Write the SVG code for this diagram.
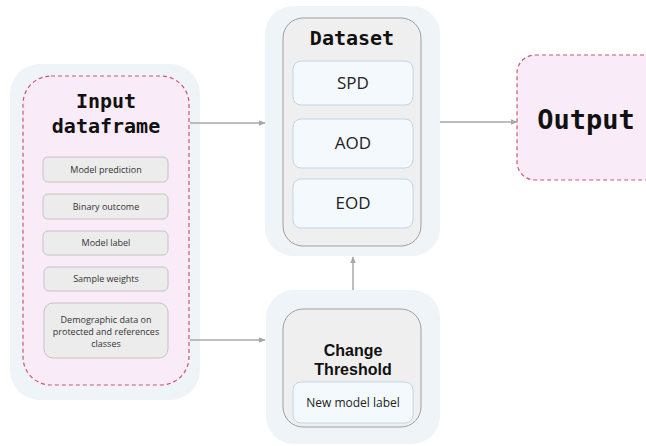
<svg xmlns="http://www.w3.org/2000/svg" width="646" height="446" viewBox="0 0 646 446">
<style>
.bg{fill:#eef4f7;stroke:none}
.pink{fill:#f9ebf7;stroke:#d4546f;stroke-width:1.2;stroke-dasharray:4 3}
.gray{fill:#efefef;stroke:#a0a0a0;stroke-width:1}
.item{fill:#ececec;stroke:#c4c4c4;stroke-width:1}
.blue{fill:#f4f9fd;stroke:#c3d4e6;stroke-width:1}
.mono{font-family:"DejaVu Sans Mono","Liberation Mono",monospace;font-weight:bold;fill:#111;text-anchor:middle}
.sm{font-family:"Open Sans","Noto Sans",sans-serif;font-size:9px;fill:#333;text-anchor:middle}
.lbl{font-family:"Open Sans","Noto Sans",sans-serif;font-size:12px;fill:#222;text-anchor:middle}
.md{font-family:"Open Sans","Noto Sans",sans-serif;font-size:17px;fill:#222;text-anchor:middle}
.bold{font-family:"Liberation Sans",Arial,sans-serif;font-weight:bold;font-size:16px;fill:#111;text-anchor:middle}
.conn{stroke:#a8a8a8;stroke-width:1.5;fill:none}
</style>
<defs>
<marker id="arr" viewBox="0 0 10 10" refX="9" refY="5" markerWidth="7" markerHeight="7" orient="auto" markerUnits="userSpaceOnUse">
<path d="M0,1 L10,5 L0,9 z" fill="#a8a8a8"/>
</marker>
</defs>
<g id="input">
<rect class="bg" x="10" y="64" width="190" height="336" rx="30"/>
<rect class="pink" x="23" y="76" width="166" height="309" rx="28"/>
<text class="mono" x="106" y="108" font-size="20">Input</text>
<text class="mono" x="106" y="133" font-size="20">dataframe</text>
<rect class="item" x="43" y="157" width="125" height="25" rx="5"/>
<text class="sm" x="106" y="173">Model prediction</text>
<rect class="item" x="43" y="194" width="125" height="25" rx="5"/>
<text class="sm" x="106" y="210">Binary outcome</text>
<rect class="item" x="43" y="231" width="125" height="24" rx="5"/>
<text class="sm" x="106" y="246">Model label</text>
<rect class="item" x="44" y="267" width="124" height="24" rx="5"/>
<text class="sm" x="106" y="282">Sample weights</text>
<rect class="item" x="44" y="303" width="124" height="55" rx="9"/>
<text class="sm" x="106" y="323">Demographic data on</text>
<text class="sm" x="106" y="335">protected and references</text>
<text class="sm" x="106" y="347">classes</text>
</g>
<g id="dataset">
<rect class="bg" x="265" y="6" width="175" height="250" rx="28"/>
<rect class="gray" x="283" y="18" width="138" height="228" rx="20"/>
<text class="mono" x="352" y="45" font-size="20">Dataset</text>
<rect class="blue" x="293" y="61" width="120" height="44" rx="8"/>
<text class="md" x="353" y="89">SPD</text>
<rect class="blue" x="293" y="119" width="120" height="49" rx="8"/>
<text class="md" x="353" y="149">AOD</text>
<rect class="blue" x="293" y="179" width="120" height="49" rx="8"/>
<text class="md" x="353" y="209">EOD</text>
</g>
<g id="threshold">
<rect class="bg" x="266" y="290" width="174" height="154" rx="28"/>
<rect class="gray" x="283" y="309" width="138" height="118" rx="20"/>
<text class="bold" x="353" y="356">Change</text>
<text class="bold" x="353" y="375">Threshold</text>
<rect class="blue" x="293" y="382" width="120" height="41" rx="8"/>
<text class="lbl" x="353" y="407">New model label</text>
</g>
<g id="output">
<rect class="pink" x="517" y="55" width="150" height="125" rx="18"/>
<text class="mono" x="586" y="129" font-size="27">Output</text>
</g>
<g id="connectors">
<line class="conn" x1="190" y1="123" x2="265" y2="123" marker-end="url(#arr)"/>
<line class="conn" x1="190" y1="340" x2="265" y2="340" marker-end="url(#arr)"/>
<line class="conn" x1="440" y1="122" x2="517" y2="122" marker-end="url(#arr)"/>
<line class="conn" x1="353" y1="290" x2="353" y2="257" marker-end="url(#arr)"/>
</g>
</svg>
